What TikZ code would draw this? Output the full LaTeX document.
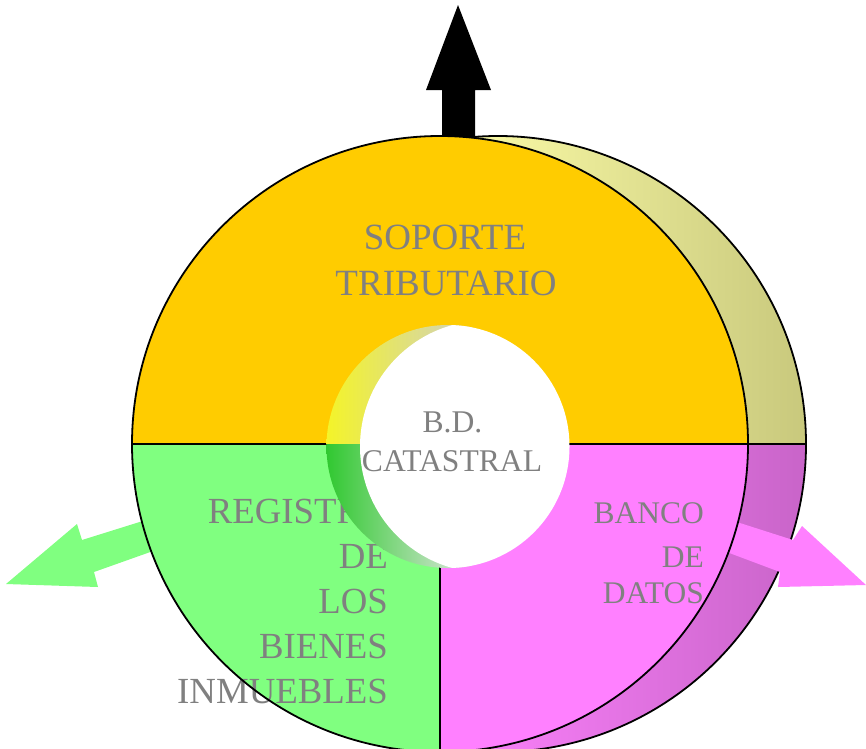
\documentclass[tikz,border=0pt]{standalone}
\usepackage{fontspec}
\setmainfont{Liberation Serif}
\definecolor{yel}{HTML}{FFCC00}
\definecolor{grn}{HTML}{80FF80}
\definecolor{pnk}{HTML}{FF80FF}
\definecolor{shyl}{HTML}{FAFAA6}
\definecolor{shyd}{HTML}{C8C87C}
\definecolor{shpl}{HTML}{FA80FA}
\definecolor{shpd}{HTML}{C864C8}
\definecolor{cyl}{HTML}{F4F428}
\definecolor{cyd}{HTML}{D0D0C0}
\definecolor{cgl}{HTML}{30C830}
\definecolor{cgd}{HTML}{E0E8E0}
\definecolor{txt}{HTML}{808080}
\tikzset{
  outline/.style={draw=black,line width=1.8pt},
  thinline/.style={draw=black,line width=1.5pt},
  lbig/.style={text=txt,inner sep=0pt,font=\fontsize{37}{44}\selectfont},
  lreg/.style={text=txt,inner sep=0pt,font=\fontsize{36.8}{44}\selectfont},
  lsmall/.style={text=txt,inner sep=0pt,font=\fontsize{31.5}{40}\selectfont},
  lmid/.style={text=txt,inner sep=0pt,font=\fontsize{31.6}{39}\selectfont}
}
\begin{document}
\begin{tikzpicture}[x=1pt,y=-1pt]
\useasboundingbox (0,0) rectangle (866,748);
\coordinate (sc) at (498,444);
\coordinate (mc) at (440,444);
\coordinate (hc) at (448,446.5);
\coordinate (ic) at (486,446.5);
% 3D side (shadow)
\begin{scope}
  \clip (sc) circle[radius=308];
  \shade[left color=shyl,right color=shyd] (468,130) rectangle (810,444);
  \shade[left color=shpl,right color=shpd] (468,444) rectangle (810,760);
\end{scope}
\draw[outline] (sc) circle[radius=308];
% arrows
\fill[black] (442,140) -- (442,90) -- (426,90) -- (458,5) -- (491,90) -- (475,90) -- (475,140) -- cycle;
\fill[grn] (162,515) -- (82,540) -- (77,524) -- (6,584) -- (98,587) -- (94,572) -- (170,545) -- cycle;
\fill[pnk] (715,515) -- (793,540) -- (802,526) -- (866,585) -- (778,587) -- (780,572) -- (708,545) -- cycle;
% main disk
\fill[yel] (mc) circle[radius=308];
\begin{scope}
  \clip (mc) circle[radius=308];
  \fill[grn] (120,444) rectangle (440,760);
  \fill[pnk] (440,444) rectangle (760,760);
\end{scope}
% labels
\node[lbig,anchor=base] (s1) at (445,249) {SOPORTE};
\node[lbig,anchor=base] (s2) at (446,295) {TRIBUTARIO};
\node[lreg,anchor=base east] (r1) at (388,523) {REGISTRO};
\node[lreg,anchor=base east] (r2) at (388,568) {DE};
\node[lreg,anchor=base east] (r3) at (388,613) {LOS};
\node[lreg,anchor=base east] (r4) at (388,658) {BIENES};
\node[lreg,anchor=base east] (r5) at (388,703) {INMUEBLES};
\node[lsmall,anchor=base east] (b1) at (704,523) {BANCO};
\node[lsmall,anchor=base east] (b2) at (704,567) {DE};
\node[lsmall,anchor=base east] (b3) at (704,603) {DATOS};
% outlines
\draw[outline] (mc) circle[radius=308];
\draw[thinline] (132,444) -- (806,444);
\draw[thinline] (440,444) -- (440,752);
% hole with inner wall
\begin{scope}
  \clip (hc) circle[radius=121.5];
  \shade[left color=cyl,right color=cyd] (326,320) rectangle (472,444.5);
  \shade[left color=cgl,right color=cgd] (326,444.5) rectangle (472,572);
  \fill[white] (ic) circle[radius=126];
\end{scope}
\node[lmid,anchor=base] (c1) at (452.5,432) {B.D.};
\node[lmid,anchor=base] (c2) at (452,471) {CATASTRAL};
\end{tikzpicture}
\end{document}
